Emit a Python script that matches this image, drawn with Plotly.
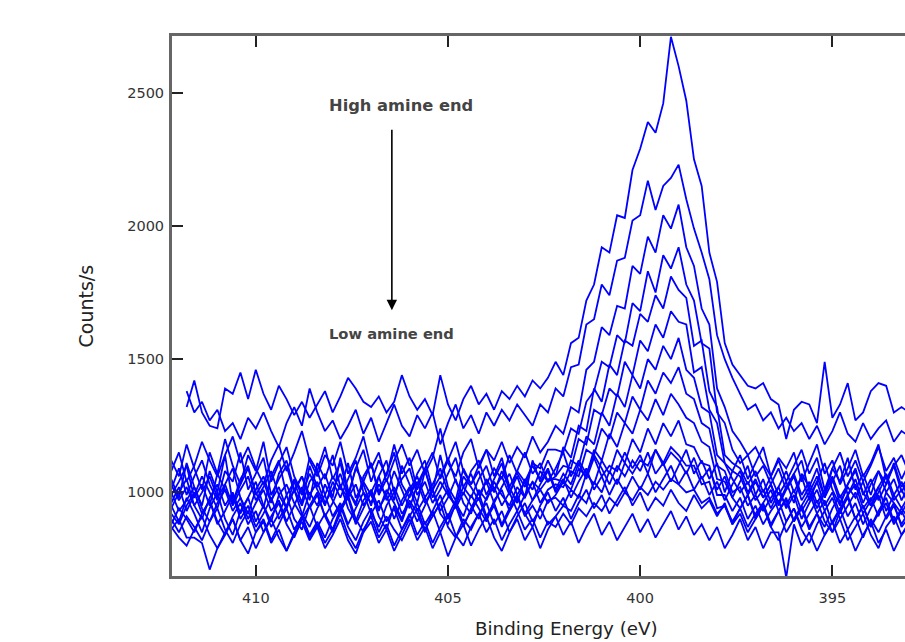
import plotly.graph_objects as go

# Binding-energy sampling grid (eV), 412.2 -> 393.0 in 0.2 eV steps
energy = [round(412.2 - 0.2 * k, 1) for k in range(97)]

s01 = [None, None, 1320, 1420, 1300, 1250, 1240, 1390, 1370, 1450,
       1350, 1460, 1370, 1310, 1400, 1350, 1290, 1340, 1280, 1330,
       1380, 1300, 1360, 1430, 1390, 1340, 1320, 1360, 1300, 1340,
       1440, 1360, 1310, 1350, 1290, 1440, 1330, 1270, 1350, 1400,
       1330, 1370, 1310, 1380, 1350, 1400, 1360, 1420, 1390, 1430,
       1490, 1440, 1560, 1580, 1720, 1780, 1920, 1900, 2040, 2030,
       2210, 2290, 2390, 2350, 2460, 2710, 2600, 2470, 2250, 2150,
       1900, 1790, 1560, 1480, 1440, 1400, 1390, 1410, 1350, 1330,
       1200, 1310, 1340, 1330, 1260, 1490, 1280, 1330, 1410, 1270,
       1300, 1380, 1410, 1400, 1300, 1320, 1300]
s02 = [None, None, 1380, 1300, 1340, 1270, 1310, 1230, 1260, 1200,
       1280, 1240, 1300, 1230, 1170, 1260, 1320, 1250, 1390, 1300,
       1230, 1270, 1200, 1250, 1310, 1220, 1280, 1190, 1260, 1330,
       1250, 1210, 1290, 1240, 1300, 1180, 1260, 1330, 1240, 1290,
       1220, 1300, 1250, 1310, 1270, 1330, 1290, 1250, 1330, 1300,
       1390, 1360, 1470, 1480, 1630, 1650, 1780, 1740, 1870, 1880,
       2020, 2040, 2170, 2060, 2150, 2180, 2230, 2100, 1990, 1900,
       1800, 1590, 1500, 1430, 1370, 1310, 1330, 1270, 1300, 1240,
       1280, 1230, 1260, 1200, 1250, 1180, 1230, 1300, 1220, 1190,
       1260, 1200, 1240, 1270, 1190, 1230, 1210]
s03 = [1080, 1150, 1040, 1100, 1190, 1120, 1060, 1140, 1210, 1110,
       1170, 1090, 1030, 1120, 1180, 1080, 1150, 1230, 1120, 1060,
       1140, 1100, 1190, 1070, 1130, 1210, 1090, 1150, 1040, 1120,
       1180, 1100, 1160, 1070, 1130, 1240, 1110, 1060, 1150, 1200,
       1090, 1160, 1120, 1190, 1110, 1170, 1130, 1210, 1150, 1190,
       1250, 1220, 1320, 1300, 1460, 1490, 1620, 1590, 1700, 1690,
       1850, 1820, 1960, 1900, 2040, 1990, 2080, 1920, 1850, 1690,
       1630, 1390, 1320, 1230, 1190, 1140, 1170, 1110, 1060, 1130,
       1090, 1150, 1040, 1110, 1180, 1070, 1120, 1030, 1090, 1160,
       1060, 1110, 1180, 1050, 1100, 1140, 1070]
s04 = [1010, 1090, 990, 1060, 1120, 1030, 970, 1080, 1040, 1150,
       1010, 1070, 1130, 990, 1050, 1100, 1000, 1060, 970, 1110,
       1050, 1140, 1020, 980, 1090, 1040, 1110, 1000, 1070, 1150,
       1030, 980, 1070, 1120, 1010, 1060, 1130, 1040, 990, 1080,
       1120, 1030, 1090, 1050, 1140, 1070, 1020, 1110, 1090, 1160,
       1160, 1150, 1240, 1220, 1340, 1380, 1490, 1470, 1590, 1560,
       1710, 1680, 1830, 1750, 1890, 1840, 1920, 1780, 1720, 1560,
       1540, 1300, 1260, 1160, 1110, 1140, 1060, 1100, 1030, 1090,
       1010, 1070, 1120, 1000, 1060, 980, 1090, 1040, 1130, 1010,
       1070, 990, 1080, 1030, 1110, 1020, 1060]
s05 = [990, 1040, 1100, 980, 1030, 950, 1070, 1010, 960, 1050,
       1100, 990, 1040, 960, 1070, 1120, 1010, 950, 1040, 1080,
       990, 1060, 1010, 1110, 980, 1030, 950, 1060, 1120, 1000,
       1050, 1090, 990, 1040, 960, 1010, 1070, 1130, 1020, 980,
       1050, 1100, 1010, 1060, 990, 1080, 1040, 1100, 1050, 1120,
       1060, 1170, 1130, 1250, 1230, 1390, 1340, 1480, 1440, 1570,
       1550, 1670, 1640, 1740, 1690, 1810, 1760, 1730, 1550, 1570,
       1380, 1320, 1140, 1110, 1090, 1030, 1080, 1000, 1060, 990,
       1040, 960, 1070, 1020, 1090, 980, 1040, 1100, 990, 1050,
       960, 1030, 1080, 1000, 1050, 970, 1030]
s06 = [960, 1020, 930, 990, 1060, 1000, 940, 1030, 1090, 980,
       920, 1010, 1060, 970, 1020, 940, 1050, 990, 1070, 1010,
       950, 1040, 980, 1050, 1120, 1000, 960, 1030, 990, 1080,
       1010, 940, 1030, 1090, 980, 1040, 990, 950, 1060, 1020,
       970, 1050, 1000, 1080, 1020, 960, 1050, 1010, 1080, 1040,
       1060, 1100, 1090, 1200, 1180, 1310, 1290, 1390, 1360, 1490,
       1440, 1570, 1530, 1630, 1580, 1680, 1640, 1630, 1450, 1470,
       1310, 1260, 1110, 1080, 1060, 990, 1040, 980, 1030, 950,
       1010, 1060, 970, 1020, 940, 1000, 1050, 960, 1020, 980,
       1040, 950, 1000, 1060, 970, 1010, 950]
s07 = [940, 1000, 1050, 950, 900, 980, 1030, 950, 1000, 920,
       980, 1040, 950, 890, 990, 1030, 960, 910, 1000, 950,
       1030, 970, 920, 1010, 960, 1040, 990, 930, 1010, 960,
       900, 990, 1040, 960, 1010, 930, 980, 1050, 960, 920,
       1010, 970, 1040, 990, 950, 1020, 980, 1040, 1010, 1050,
       1050, 1040, 1120, 1100, 1210, 1180, 1300, 1250, 1370, 1320,
       1440, 1390, 1500, 1460, 1550, 1500, 1580, 1460, 1430, 1320,
       1300, 1140, 1110, 1050, 1000, 1040, 970, 1010, 940, 1000,
       950, 1010, 930, 980, 1040, 950, 1000, 920, 990, 1030,
       940, 980, 910, 1000, 960, 920, 980]
s08 = [1000, 930, 970, 1020, 940, 890, 960, 1010, 930, 980,
       900, 960, 1010, 930, 970, 890, 950, 1020, 940, 990,
       910, 960, 1030, 940, 890, 970, 1010, 940, 990, 900,
       970, 1020, 930, 980, 910, 960, 1010, 940, 1000, 950,
       900, 980, 1020, 950, 1000, 930, 990, 1040, 960, 1010,
       1030, 1020, 1080, 1060, 1160, 1140, 1240, 1200, 1300, 1260,
       1360, 1310, 1420, 1370, 1450, 1410, 1470, 1370, 1350, 1260,
       1240, 1100, 1080, 1000, 1020, 950, 990, 930, 980, 1020,
       940, 990, 900, 960, 1010, 930, 980, 900, 950, 1000,
       920, 970, 1020, 930, 990, 940, 990]
s09 = [920, 880, 950, 1000, 920, 970, 880, 930, 990, 900,
       950, 870, 920, 980, 900, 950, 1010, 920, 870, 940,
       990, 910, 960, 880, 940, 1000, 920, 870, 950, 1000,
       920, 960, 890, 950, 1010, 920, 880, 960, 910, 990,
       940, 890, 970, 1010, 930, 980, 920, 970, 1010, 960,
       990, 1040, 1010, 1090, 1060, 1160, 1120, 1220, 1170, 1260,
       1220, 1310, 1270, 1350, 1290, 1370, 1330, 1280, 1260, 1190,
       1170, 1050, 1040, 980, 940, 990, 910, 960, 1010, 930,
       970, 890, 950, 1000, 920, 870, 940, 990, 910, 960,
       880, 940, 990, 900, 950, 880, 930]
s10 = [880, 940, 900, 850, 920, 970, 890, 840, 910, 960,
       880, 930, 850, 910, 960, 880, 830, 900, 950, 870,
       920, 860, 940, 990, 900, 850, 920, 970, 890, 940,
       860, 910, 960, 880, 930, 850, 910, 970, 880, 930,
       980, 900, 950, 870, 930, 990, 910, 950, 900, 970,
       980, 950, 1010, 980, 1070, 1030, 1120, 1070, 1160, 1110,
       1200, 1150, 1240, 1180, 1260, 1210, 1270, 1180, 1170, 1110,
       1100, 990, 990, 930, 980, 900, 950, 880, 930, 970,
       890, 940, 870, 920, 970, 890, 850, 930, 980, 900,
       950, 870, 920, 960, 880, 930, 870]
s11 = [900, 850, 910, 870, 820, 890, 940, 860, 810, 880,
       930, 850, 900, 820, 880, 940, 860, 910, 840, 890,
       830, 900, 950, 870, 820, 890, 940, 850, 910, 860,
       820, 880, 940, 860, 910, 960, 870, 830, 900, 860,
       920, 960, 880, 930, 850, 910, 960, 890, 940, 880,
       910, 950, 930, 990, 960, 1040, 1000, 1080, 1030, 1110,
       1070, 1120, 1100, 1160, 1110, 1170, 1140, 1100, 1100, 1030,
       1040, 940, 950, 890, 940, 870, 920, 960, 880, 930,
       850, 900, 950, 870, 920, 840, 890, 940, 860, 910,
       830, 900, 850, 910, 960, 870, 910]
s12 = [870, 830, 800, 860, 910, 840, 790, 850, 900, 820,
       870, 790, 850, 900, 830, 780, 850, 910, 830, 880,
       810, 860, 920, 840, 790, 860, 910, 830, 880, 800,
       860, 920, 840, 890, 810, 870, 920, 840, 800, 870,
       920, 850, 900, 820, 880, 930, 860, 900, 830, 890,
       870, 920, 880, 940, 910, 960, 930, 980, 950, 1000,
       970, 1020, 990, 1040, 1010, 1050, 1030, 1000, 1010, 960,
       980, 920, 950, 880, 920, 850, 900, 950, 870, 820,
       890, 940, 860, 810, 880, 930, 850, 900, 820, 870,
       920, 840, 790, 870, 910, 840, 890]
s13 = [860, 900, 830, 830, 810, 710, 790, 840, 900, 820,
       770, 850, 890, 810, 860, 780, 840, 890, 820, 870,
       790, 840, 900, 820, 770, 850, 890, 810, 860, 780,
       840, 900, 820, 870, 790, 850, 760, 830, 880, 800,
       860, 910, 830, 780, 850, 900, 820, 870, 790, 860,
       910, 840, 890, 810, 870, 920, 840, 890, 820, 870,
       920, 850, 900, 830, 880, 930, 860, 910, 840, 880,
       820, 870, 790, 840, 900, 820, 870, 790, 850, 850,
       680, 880, 800, 850, 780, 840, 890, 810, 860, 780,
       840, 890, 810, 860, 780, 840, 880]
s14 = [1030, 970, 1020, 950, 1000, 1060, 980, 1030, 950, 1010,
       1060, 970, 1020, 1080, 990, 940, 1010, 1060, 990, 1040,
       960, 1010, 1070, 980, 1030, 950, 1000, 1060, 970, 1020,
       950, 1010, 1060, 980, 1030, 1090, 1000, 950, 1020, 1070,
       990, 1040, 960, 1020, 1070, 990, 1040, 970, 1030, 1080,
       1000, 1050, 980, 1040, 1090, 1010, 1060, 990, 1050, 1000,
       1060, 1010, 1070, 1000, 1050, 1100, 1030, 1080, 1010, 1060,
       990, 1040, 970, 1030, 1080, 1000, 1050, 980, 1030, 960,
       1020, 1070, 990, 1040, 960, 1010, 1060, 980, 1030, 1080,
       1000, 950, 1020, 1070, 990, 1040, 970]
s15 = [1050, 980, 1110, 1020, 950, 1080, 1000, 1140, 960, 1030,
       1090, 1000, 940, 1060, 1120, 990, 1040, 960, 1100, 1020,
       1070, 980, 1130, 1010, 950, 1060, 1110, 990, 1050, 970,
       1100, 1030, 960, 1080, 1000, 1140, 1020, 970, 1090, 1030,
       1080, 990, 1050, 1110, 1000, 1060, 980, 1120, 1040, 1090,
       1010, 1070, 1030, 1110, 1050, 1130, 1060, 1100, 1080, 1150,
       1090, 1140, 1070, 1160, 1100, 1150, 1120, 1070, 1130, 1050,
       1090, 1010, 1060, 980, 1040, 1100, 990, 1050, 960, 1020,
       1080, 1000, 1060, 970, 1040, 1110, 1010, 950, 1030, 1090,
       990, 1050, 970, 1030, 1100, 1000, 1060]
s16 = [1120, 1060, 1180, 1090, 1010, 1150, 1070, 1200, 1100, 1030,
       1140, 1080, 1190, 1040, 1110, 1170, 1060, 1000, 1130, 1080,
       1170, 1050, 1110, 990, 1090, 1160, 1040, 1120, 1060, 1180,
       1070, 1130, 1010, 1090, 1150, 1050, 1120, 1190, 1080, 1030,
       1100, 1160, 1060, 1130, 1020, 1080, 1150, 1070, 1110, 1040,
       1090, 1150, 1060, 1120, 1070, 1140, 1090, 1030, 1100, 1060,
       1120, 1080, 1150, 1070, 1110, 1040, 1100, 1160, 1070, 1120,
       1050, 1110, 1000, 1080, 1140, 1050, 1110, 1170, 1060, 1120,
       1040, 1100, 1160, 1070, 1130, 1010, 1090, 1150, 1060, 1120,
       1040, 1100, 1170, 1080, 1130, 1050, 1110]
s17 = [950, 890, 980, 920, 850, 940, 1000, 900, 840, 930,
       980, 890, 950, 870, 920, 990, 900, 860, 950, 1000,
       910, 850, 930, 980, 880, 940, 1000, 910, 860, 950,
       890, 970, 920, 850, 930, 990, 900, 950, 870, 940,
       1000, 910, 960, 880, 940, 990, 920, 870, 950, 1000,
       930, 980, 900, 960, 1010, 940, 990, 920, 970, 1020,
       950, 1000, 930, 980, 950, 1010, 960, 930, 990, 940,
       970, 910, 960, 880, 940, 990, 900, 950, 870, 930,
       980, 890, 940, 860, 920, 970, 880, 940, 990, 900,
       950, 870, 930, 980, 890, 940, 900]

spectra = [s01, s02, s03, s04, s05, s06, s07, s08, s09, s10,
           s11, s12, s13, s14, s15, s16, s17]

x_ticks = [410, 405, 400, 395]
y_ticks = [1000, 1500, 2000, 2500]

FONT = "DejaVu Sans"

fig = go.Figure()
for s in spectra:
    fig.add_trace(go.Scatter(x=energy, y=s, mode="lines",
                             line=dict(color="#0000FF", width=1.8),
                             showlegend=False, hoverinfo="skip"))

axis_common = dict(showline=True, linecolor="#666666", linewidth=3,
                   showgrid=False, zeroline=False, ticks="inside",
                   tickcolor="#222222", tickwidth=2, ticklen=11,
                   tickfont=dict(family=FONT, size=14.5, color="#333333"))

fig.update_xaxes(range=[412.18, 393.11], tickvals=x_ticks,
                 ticktext=[str(v) for v in x_ticks], mirror="ticks",
                 ticklabelstandoff=7, **axis_common)
fig.update_yaxes(range=[686, 2713], tickvals=y_ticks,
                 ticktext=[str(v) for v in y_ticks], mirror=False,
                 ticklabelstandoff=2, **axis_common)

fig.add_annotation(x=406.22, y=2454, xref="x", yref="y", text="High amine end",
                   showarrow=False, font=dict(family=FONT, size=16.3, color="#444444", weight="bold"))
fig.add_annotation(x=406.48, y=1598, xref="x", yref="y", text="Low amine end",
                   showarrow=False, font=dict(family=FONT, size=14.7, color="#444444", weight="bold"))
fig.add_annotation(x=406.46, y=1684, xref="x", yref="y", text="",
                   showarrow=True, arrowhead=2, arrowsize=1.3, arrowwidth=1.6,
                   arrowcolor="#000000", ax=0, ay=-182)

fig.add_annotation(x=-0.118, y=0.5, xref="paper", yref="paper", text="Counts/s",
                   textangle=-90, showarrow=False, xanchor="center", yanchor="middle",
                   font=dict(family=FONT, size=19, color="#222222"))
fig.add_annotation(x=0.538, y=-0.097, xref="paper", yref="paper", text="Binding Energy (eV)",
                   showarrow=False, xanchor="center", yanchor="middle",
                   font=dict(family=FONT, size=18.3, color="#222222"))

fig.update_layout(width=905, height=642, margin=dict(l=172, r=0, t=36, b=66),
                  plot_bgcolor="white", paper_bgcolor="white")

fig.write_html("out.html", config={"displayModeBar": False},
               post_script="document.body.style.margin='0';document.body.style.overflow='hidden';")
